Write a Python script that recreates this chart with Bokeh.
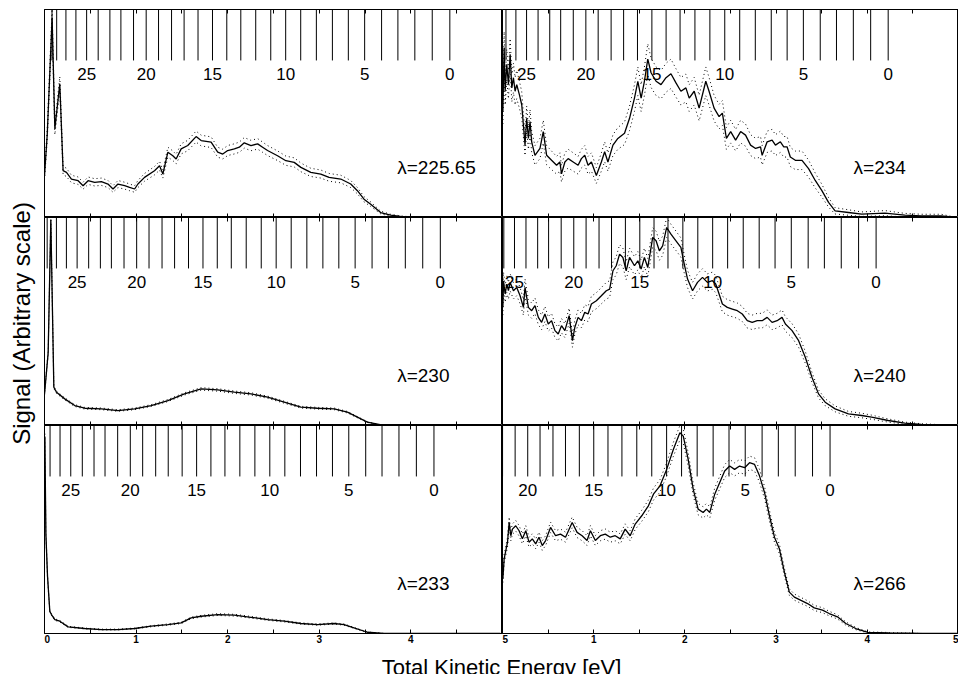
import numpy as np
from bokeh.plotting import figure
from bokeh.layouts import gridplot, column, row
from bokeh.models import Range1d, LinearAxis, FixedTicker
from bokeh.embed import file_html
from bokeh.resources import INLINE
from bokeh.core.properties import value

FONT = "Liberation Sans"

# ---------------- data ----------------
# vibrational level energies G(v) relative to v=0 [eV], v = 0..29
vib_levels = [0.0, 0.192, 0.382, 0.567, 0.745, 0.930, 1.108, 1.282, 1.457, 1.628,
              1.792, 1.955, 2.119, 2.282, 2.435, 2.591, 2.749, 2.901, 3.038, 3.180,
              3.315, 3.453, 3.591, 3.711, 3.839, 3.965, 4.082, 4.191, 4.292, 4.343]
threshold_eV = 1.0695          # photon energy minus TKE of v=0
comb_label_levels = [0, 5, 10, 15, 20, 25]

wavelengths = [225.65, 234, 230, 240, 233, 266]   # nm, panels row by row
band_err = [3.0, 6.0, 1.0, 3.5, 1.0, 2.5]          # dotted error band size

tke_22565 = [0.0, 0.03, 0.083, 0.113, 0.167, 0.203, 0.240, 0.294, 0.367, 0.421, 0.476, 0.548,
             0.621, 0.693, 0.748, 0.802, 0.875, 0.929, 0.984, 1.020, 1.092, 1.201, 1.256, 1.292,
             1.347, 1.401, 1.437, 1.492, 1.564, 1.655, 1.710, 1.819, 1.891, 1.946, 2.000, 2.073,
             2.127, 2.181, 2.254, 2.327, 2.381, 2.435, 2.544, 2.635, 2.726, 2.799, 2.907, 3.016,
             3.107, 3.234, 3.343, 3.416, 3.488, 3.561, 3.670, 3.779, 3.887, 4.069, 4.976]
sig_22565 = [20, 40, 96, 42.6, 64.3, 22.5, 21.7, 18.5, 17.7, 15.3, 17.7, 16.9, 17.2, 16.1, 13.7,
             16.1, 15.3, 14.5, 13.7, 16.1, 19.3, 22.5, 24.9, 20.9, 31.4, 29.7, 28.1, 33.0, 34.6,
             38.9, 37.0, 36.2, 31.4, 30.5, 32.2, 33.0, 33.8, 35.9, 34.6, 35.4, 33.8, 32.2, 29.7,
             27.3, 26.5, 24.1, 21.7, 20.9, 19.3, 18.5, 16.1, 12.9, 8.8, 6.4, 2.4, 1.1, 0.5, 0.0, 0.0]

tke_230 = [0.0, 0.04, 0.069, 0.102, 0.131, 0.221, 0.330, 0.439, 0.621, 0.802, 0.984, 1.165,
           1.347, 1.528, 1.710, 1.891, 2.073, 2.254, 2.436, 2.617, 2.799, 2.980, 3.162, 3.307,
           3.416, 3.525, 3.706, 4.976]
sig_230 = [15, 35, 99, 18.4, 16.0, 12.8, 9.6, 8.3, 8.0, 7.2, 8.0, 9.6, 12.0, 15.2, 17.6, 17.1,
           16.0, 15.2, 13.6, 11.2, 8.8, 8.3, 8.0, 6.4, 4.0, 1.6, 0.0, 0.0]

tke_233 = [0.004, 0.015, 0.033, 0.058, 0.076, 0.113, 0.167, 0.258, 0.439, 0.621, 0.802, 0.984,
           1.165, 1.347, 1.492, 1.601, 1.710, 1.891, 2.073, 2.254, 2.436, 2.617, 2.799, 2.980,
           3.162, 3.270, 3.379, 3.525, 3.706, 4.976]
sig_233 = [94.7, 48.0, 27.5, 10.7, 9.1, 6.7, 5.9, 3.2, 2.4, 1.9, 1.9, 2.4, 3.5, 4.3, 5.1, 7.5,
           8.3, 9.1, 8.8, 7.8, 6.7, 5.9, 4.8, 4.3, 4.8, 4.3, 2.7, 0.6, 0.0, 0.0]

tke_234 = [0.004, 0.018, 0.029, 0.047, 0.065, 0.084, 0.102, 0.120, 0.138, 0.156,
           0.185, 0.211, 0.229, 0.247, 0.265, 0.284, 0.302, 0.320, 0.356, 0.411,
           0.447, 0.484, 0.538, 0.593, 0.629, 0.647, 0.684, 0.720, 0.775, 0.829,
           0.865, 0.902, 0.938, 0.975, 1.029, 1.084, 1.120, 1.156, 1.211, 1.265,
           1.338, 1.393, 1.447, 1.484, 1.520, 1.556, 1.593, 1.629, 1.684, 1.738,
           1.793, 1.847, 1.902, 1.956, 2.011, 2.047, 2.102, 2.156, 2.229, 2.265,
           2.320, 2.375, 2.411, 2.455, 2.502, 2.556, 2.611, 2.665, 2.720, 2.775,
           2.829, 2.847, 2.902, 2.956, 2.993, 3.047, 3.084, 3.120, 3.156, 3.211,
           3.284, 3.356, 3.429, 3.502, 3.575, 3.647, 3.793, 3.938, 4.193, 4.411,
           4.593, 4.811, 4.982]
sig_234 = [51.0, 81.7, 60.7, 73.6, 63.9, 78.5, 62.3, 67.2, 60.7, 63.9,
           59.1, 54.2, 44.5, 34.8, 47.7, 38.0, 46.1, 36.4, 29.9, 33.2,
           41.3, 29.9, 27.5, 25.1, 26.7, 21.0, 26.7, 28.3, 26.7, 25.1,
           28.3, 29.9, 25.1, 26.7, 20.2, 26.7, 31.6, 26.7, 34.8, 38.0,
           40.5, 47.7, 57.4, 65.5, 57.4, 65.5, 76.1, 69.6, 65.5, 63.9,
           67.2, 69.1, 64.7, 60.7, 62.3, 57.4, 60.7, 52.6, 65.5, 60.7,
           52.6, 48.5, 50.2, 38.0, 41.3, 37.2, 41.3, 39.6, 34.8, 33.2,
           34.0, 29.9, 36.4, 37.2, 34.8, 36.4, 34.0, 34.0, 29.1, 27.5,
           27.5, 23.5, 17.8, 12.9, 7.3, 3.2, 2.4, 1.6, 2.1, 1.1,
           0.8, 0.8, 0.0]

tke_240 = [0.004, 0.011, 0.029, 0.047, 0.065, 0.084, 0.120, 0.156, 0.193, 0.229,
           0.247, 0.284, 0.320, 0.356, 0.393, 0.429, 0.465, 0.502, 0.538, 0.575,
           0.611, 0.647, 0.684, 0.731, 0.767, 0.793, 0.829, 0.865, 0.902, 0.938,
           0.975, 1.029, 1.084, 1.138, 1.175, 1.211, 1.247, 1.284, 1.320, 1.356,
           1.393, 1.447, 1.484, 1.520, 1.556, 1.593, 1.647, 1.684, 1.720, 1.756,
           1.800, 1.847, 1.902, 1.956, 1.993, 2.029, 2.084, 2.138, 2.193, 2.247,
           2.302, 2.338, 2.375, 2.411, 2.465, 2.520, 2.575, 2.629, 2.684, 2.738,
           2.793, 2.847, 2.902, 2.956, 3.011, 3.065, 3.102, 3.175, 3.247, 3.320,
           3.393, 3.465, 3.538, 3.647, 3.793, 3.938, 4.047, 4.229, 4.411, 4.593,
           4.982]
sig_240 = [56.8, 69.6, 63.2, 68.0, 64.8, 68.8, 64.8, 66.4, 62.4, 56.8,
           66.4, 56.8, 55.2, 57.6, 52.0, 49.6, 53.6, 48.8, 50.4, 45.6,
           44.0, 48.0, 45.6, 52.8, 40.8, 47.2, 52.0, 50.4, 54.4, 53.6,
           58.4, 60.0, 62.4, 64.8, 65.6, 74.4, 76.8, 82.4, 80.8, 74.4,
           80.8, 76.8, 79.2, 75.2, 80.8, 76.0, 90.4, 88.8, 84.0, 86.4,
           95.2, 92.0, 88.8, 85.6, 77.6, 70.4, 64.8, 68.8, 71.2, 68.8,
           69.6, 68.0, 63.2, 58.4, 56.8, 56.0, 55.2, 53.6, 50.4, 49.6,
           50.4, 50.4, 52.0, 49.6, 50.4, 52.0, 48.8, 45.6, 40.8, 32.8,
           23.2, 15.2, 11.2, 8.0, 5.6, 4.8, 4.0, 2.4, 1.1, 0.5,
           0.0]

tke_266 = [0.004, 0.018, 0.055, 0.073, 0.091, 0.109, 0.145, 0.182, 0.218, 0.255,
           0.291, 0.327, 0.364, 0.400, 0.436, 0.473, 0.527, 0.582, 0.636, 0.691,
           0.764, 0.818, 0.873, 0.927, 0.964, 1.018, 1.073, 1.127, 1.182, 1.236,
           1.291, 1.345, 1.400, 1.455, 1.527, 1.600, 1.655, 1.727, 1.800, 1.873,
           1.945, 1.982, 2.036, 2.091, 2.145, 2.200, 2.236, 2.273, 2.327, 2.382,
           2.436, 2.491, 2.545, 2.600, 2.655, 2.709, 2.764, 2.818, 2.873, 2.927,
           2.982, 3.036, 3.091, 3.145, 3.200, 3.273, 3.345, 3.418, 3.509, 3.582,
           3.673, 3.764, 3.873, 4.007, 4.236, 4.600, 4.989]
sig_266 = [26.3, 35.9, 43.9, 53.4, 47.0, 50.2, 51.8, 49.4, 45.5, 49.4,
           43.9, 45.5, 43.1, 46.3, 42.3, 44.7, 51.0, 47.0, 47.8, 46.3,
           53.4, 48.6, 47.0, 44.7, 49.4, 44.7, 47.0, 47.8, 46.3, 47.0,
           45.5, 50.2, 47.0, 52.6, 56.6, 61.4, 67.0, 71.0, 78.9, 88.5,
           96.5, 94.9, 83.7, 69.4, 59.8, 58.2, 59.8, 58.2, 67.0, 72.6,
           78.1, 80.5, 78.9, 80.5, 79.7, 82.1, 81.3, 75.8, 67.8, 56.6,
           46.3, 40.7, 29.5, 19.9, 17.5, 15.9, 14.4, 12.3, 11.2, 9.6,
           8.0, 4.8, 2.4, 0.5, 0.3, 0.0, 0.0]

panel_tke = [tke_22565, tke_234, tke_230, tke_240, tke_233, tke_266]
panel_sig = [sig_22565, sig_234, sig_230, sig_240, sig_233, sig_266]

all_ticks = [0, 0.5, 1, 1.5, 2, 2.5, 3, 3.5, 4, 4.5, 5]
left_major = [0, 1, 2, 3, 4]
left_minor = [0.5, 1.5, 2.5, 3.5, 4.5, 5]
right_major = [0, 1, 2, 3, 4, 5]
right_minor = [0.5, 1.5, 2.5, 3.5, 4.5]


def tick_axis(major, minor):
    return LinearAxis(ticker=FixedTicker(ticks=major, minor_ticks=minor),
                      major_tick_in=4, major_tick_out=0, minor_tick_in=4, minor_tick_out=0,
                      major_label_standoff=1,
                      major_label_text_font=FONT, major_label_text_font_size="10px",
                      major_label_text_font_style="bold", major_label_text_color="black",
                      axis_line_color="black", axis_line_width=1,
                      major_tick_line_color="black", minor_tick_line_color="black")


def make_panel(k):
    r, c = divmod(k, 2)
    left = c == 0
    lam = wavelengths[k]
    p = figure(frame_width=458 if left else 456, frame_height=208,
               x_range=Range1d(0, 5), y_range=Range1d(0, 100),
               x_axis_location=None, y_axis_location=None,
               min_border_left=0, min_border_right=0,
               min_border_top=9 if r == 0 else 0, min_border_bottom=0,
               output_backend="svg", toolbar_location=None,
               outline_line_color="black", outline_line_width=1,
               background_fill_color="white", border_fill_color="white")
    p.grid.visible = False

    # inward ticks every 0.5 eV on top and bottom edges (no labels)
    p.add_layout(tick_axis([], all_ticks), "above")
    if r == 2:
        if left:
            ax = tick_axis(left_major, left_minor)
        else:
            ax = tick_axis(right_major, right_minor)
            ax.major_label_overrides = {0: "5"}
        p.add_layout(ax, "below")
    else:
        p.add_layout(tick_axis([], all_ticks), "below")

    # comb of vibrational levels
    hv = 1239.84 / lam
    e_levels = [hv - threshold_eV - g for g in vib_levels]
    ex = [e for e in e_levels if 0 <= e <= 5]
    p.segment(x0=ex, y0=[100] * len(ex), x1=ex, y1=[75.5] * len(ex),
              line_color="black", line_width=1)
    lx, lt = [], []
    for v in comb_label_levels:
        e = e_levels[v]
        if 0 <= e <= 5:
            lx.append(e)
            lt.append(str(v))
    p.text(x=lx, y=[69] * len(lx), text=lt, text_align="center", text_baseline="middle",
           text_font=value(FONT), text_font_size="17px", text_color="black")

    p.text(x=[3.85], y=[24], text=[f"\u03bb={lam:g}"], text_align="left",
           text_baseline="middle", text_font=value(FONT), text_font_size="19px",
           text_color="black")

    xs = np.array(panel_tke[k])
    ys = np.array(panel_sig[k])
    e = band_err[k] * np.sqrt(ys / 50.0)
    p.line(xs, ys + e, line_color="black", line_width=1, line_dash="1 3")
    p.line(xs, np.clip(ys - e, 0, None), line_color="black", line_width=1, line_dash="1 3")
    p.line(xs, ys, line_color="black", line_width=1.3)
    return p


panels = [make_panel(k) for k in range(6)]
grid = gridplot([[panels[0], panels[1]], [panels[2], panels[3]], [panels[4], panels[5]]],
                toolbar_location=None)

# y-axis title, spanning the three rows
ylab = figure(frame_width=44, frame_height=633, min_border=0,
              x_range=Range1d(0, 44), y_range=Range1d(0, 633),
              x_axis_location=None, y_axis_location=None,
              output_backend="svg", toolbar_location=None, outline_line_color=None)
ylab.grid.visible = False
ylab.text(x=[21], y=[310], text=["Signal (Arbitrary scale)"], angle=np.pi / 2,
          text_align="center", text_baseline="middle", text_font=value(FONT),
          text_font_size="24px", text_color="black")

# x-axis title, spanning both columns
xlab = figure(frame_width=914, frame_height=29, min_border=0,
              x_range=Range1d(0, 1), y_range=Range1d(0, 29),
              x_axis_location=None, y_axis_location=None,
              output_backend="svg", toolbar_location=None, outline_line_color=None)
xlab.grid.visible = False
xlab.text(x=[0.5], y=[7.5], text=["Total Kinetic Energy [eV]"], text_align="center",
          text_baseline="alphabetic", text_font=value(FONT), text_font_size="22px",
          text_color="black")

root = row(ylab, column(grid, xlab))
open("out.html", "w").write(file_html(root, INLINE))
